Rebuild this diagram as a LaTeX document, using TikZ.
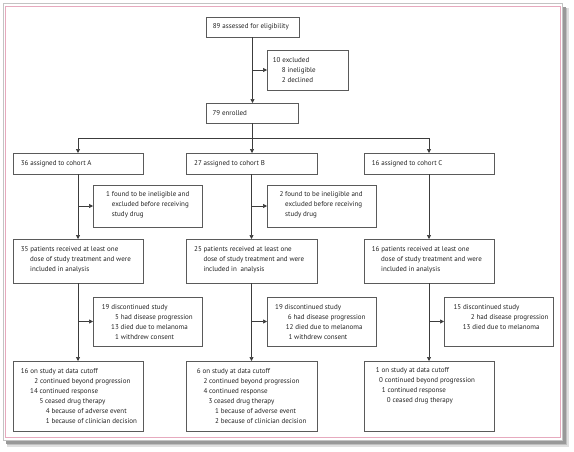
\documentclass[tikz,border=0pt]{standalone}
\usepackage{fontspec}
\setmainfont{PT Sans}
\usetikzlibrary{arrows.meta,calc}
\definecolor{boxgray}{RGB}{90,90,90}
\definecolor{linegray}{RGB}{60,60,60}
\definecolor{txtgray}{RGB}{35,35,35}
\definecolor{framepink}{RGB}{230,170,190}
\definecolor{framegray}{RGB}{195,195,195}
\newcommand\mybox[5]{\node[box,minimum width={(#4-#2)*1pt},minimum height={(#5-#3)*1pt}] (#1) at ({(#2+#4)/2},{(#3+#5)/2}) {};}
\newcommand\ind[1]{\hspace*{#1pt}}
\begin{document}
\begin{tikzpicture}[x=1pt,y=-1pt,
  box/.style={draw=boxgray,line width=0.7pt,inner sep=0pt,outer sep=0pt},
  txt/.style={anchor=west,align=left,inner sep=0pt,text=txtgray,font=\fontsize{7}{10}\selectfont},
  ln/.style={draw=linegray,line width=0.7pt},
  arr/.style={ln,-{Triangle[length=4pt,width=4pt]}}]
\useasboundingbox (0,0) rectangle (574,451);
% frame with shadow
\fill[black!12] (7,8) rectangle (568.5,446.5);
\fill[black!25] (7,8) rectangle (567,445);
\fill[black!40] (6,7) rectangle (565.5,443.5);
\filldraw[fill=white,draw=framegray,line width=0.6pt] (3.3,3.3) rectangle (562.3,440);
\draw[framepink,line width=0.8pt] (5.7,6) rectangle (560,437);
% boxes
\mybox{elig}{206}{17}{299}{37}
\mybox{excl}{267}{50}{348}{90}
\mybox{enr}{206}{103}{298}{123}
\mybox{cA}{13}{153}{143}{174}
\mybox{cB}{186}{153}{317}{174}
\mybox{cC}{364}{153}{494}{174}
\mybox{xA}{93}{185}{202}{227}
\mybox{xB}{267}{185}{376}{227}
\mybox{pA}{13}{239}{143}{283}
\mybox{pB}{186}{239}{317}{283}
\mybox{pC}{364}{239}{494}{283}
\mybox{dA}{93}{297}{202}{346}
\mybox{dB}{267}{297}{376}{346}
\mybox{dC}{444}{297}{553}{346}
\mybox{sA}{13}{361}{143}{431}
\mybox{sB}{186}{361}{317}{431}
\mybox{sC}{364}{361}{494}{431}
% texts
\node[txt] (t-elig) at (212.7,27) {89 assessed for eligibility};
\node[txt] (t-excl) at (272.7,70.3) {10 excluded\\\ind{9}8 ineligible\\\ind{9}2 declined};
\node[txt] (t-enr) at (212.3,113) {79 enrolled};
\node[txt] (t-cA) at (20.7,163.3) {36 assigned to cohort A};
\node[txt] (t-cB) at (194,163.3) {27 assigned to cohort B};
\node[txt] (t-cC) at (371.7,163.3) {16 assigned to cohort C};
\node[txt] (t-xA) at (106,205) {1 found to be ineligible and\\\ind{5.7}excluded before receiving\\\ind{5.7}study drug};
\node[txt] (t-xB) at (279.3,205) {2 found to be ineligible and\\\ind{5.7}excluded before receiving\\\ind{5.7}study drug};
\node[txt] (t-pA) at (20.7,260) {35 patients received at least one\\\ind{9.3}dose of study treatment and were\\\ind{9.3}included in analysis};
\node[txt] (t-pB) at (194,260) {25 patients received at least one\\\ind{9.3}dose of study treatment and were\\\ind{9.3}included in\ \ analysis};
\node[txt] (t-pC) at (371.7,260) {16 patients received at least one\\\ind{9.3}dose of study treatment and were\\\ind{9.3}included in analysis};
\node[txt] (t-dA) at (101.7,322.3) {19 discontinued study\\\ind{13.3}5 had disease progression\\\ind{9.3}13 died due to melanoma\\\ind{13.3}1 withdrew consent};
\node[txt] (t-dB) at (275,322.3) {19 discontinued study\\\ind{12.7}6 had disease progression\\\ind{10.7}12 died due to melanoma\\\ind{13.3}1 withdrew consent};
\node[txt] (t-dC) at (453.3,317.3) {15 discontinued study\\\ind{17.4}2 had disease progression\\\ind{9.4}13 died due to melanoma};
\node[txt] (t-sA) at (20.7,396) {16 on study at data cutoff\\\ind{13.6}2 continued beyond progression\\\ind{9.3}14 continued response\\\ind{18.6}5 ceased drug therapy\\\ind{25}4 because of adverse event\\\ind{25}1 because of clinician decision};
\node[txt] (t-sB) at (196.7,396) {6 on study at data cutoff\\\ind{6.6}2 continued beyond progression\\\ind{6.6}4 continued response\\\ind{11.6}3 ceased drug therapy\\\ind{18.3}1 because of adverse event\\\ind{18.3}2 because of clinician decision};
\node[txt] (t-sC) at (375.7,386) {1 on study at data cutoff\\\ind{3.3}0 continued beyond progression\\\ind{6}1 continued response\\\ind{11}0 ceased drug therapy};
% connectors
\draw[arr] (elig.south) -- (elig.south |- enr.north);
\coordinate (j0) at (elig.south |- excl.west);
\draw[arr] (j0) -- (excl.west);
\coordinate (hub) at ($(enr.south)+(0,15)$);
\draw[ln] (enr.south) -- (hub);
\draw[arr] (hub) -- (hub |- cB.north);
\draw[arr] (hub) -| (cA.north);
\draw[arr] (hub) -| (cC.north);
% cohort A
\draw[arr] (cA.south) -- (pA.north);
\coordinate (jA1) at (cA.south |- xA.west);
\draw[arr] (jA1) -- (xA.west);
\draw[arr] (pA.south) -- (sA.north);
\coordinate (jA2) at (pA.south |- dA.west);
\draw[arr] (jA2) -- (dA.west);
% cohort B
\draw[arr] (cB.south) -- (pB.north);
\coordinate (jB1) at (cB.south |- xB.west);
\draw[arr] (jB1) -- (xB.west);
\draw[arr] (pB.south) -- (sB.north);
\coordinate (jB2) at (pB.south |- dB.west);
\draw[arr] (jB2) -- (dB.west);
% cohort C
\draw[arr] (cC.south) -- (pC.north);
\draw[arr] (pC.south) -- (sC.north);
\coordinate (jC2) at (pC.south |- dC.west);
\draw[arr] (jC2) -- (dC.west);
\end{tikzpicture}
\end{document}
